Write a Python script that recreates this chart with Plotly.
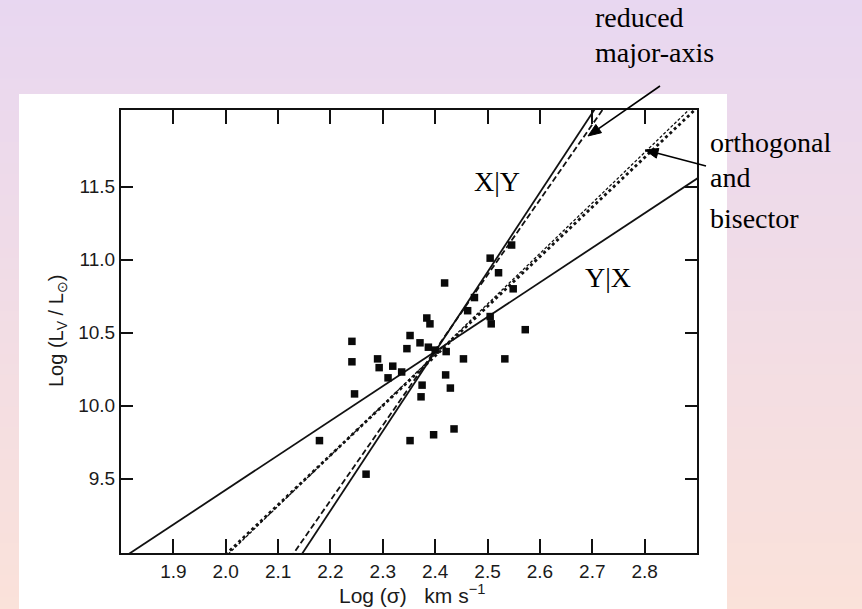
import numpy as np
import plotly.graph_objects as go

# Sample galaxies: log velocity dispersion vs log luminosity
log_sigma = [2.241, 2.241, 2.290, 2.293, 2.319, 2.310, 2.336, 2.246, 2.179, 2.352,
             2.346, 2.384, 2.390, 2.371, 2.387, 2.400, 2.418, 2.421, 2.454, 2.420,
             2.429, 2.375, 2.373, 2.352, 2.397, 2.436, 2.505, 2.546, 2.521, 2.549,
             2.505, 2.507, 2.572, 2.533, 2.475, 2.462, 2.268]
log_lum = [10.44, 10.30, 10.32, 10.26, 10.27, 10.19, 10.23, 10.08, 9.76, 10.48,
           10.39, 10.60, 10.56, 10.43, 10.40, 10.38, 10.84, 10.37, 10.32, 10.21,
           10.12, 10.14, 10.06, 9.76, 9.80, 9.84, 11.01, 11.10, 10.91, 10.80,
           10.61, 10.56, 10.52, 10.32, 10.74, 10.65, 9.53]

# Regression fits: y = pivot_y + slope * (x - PIVOT_X)
PIVOT_X = 2.4
fit_names = ["OLS(Y|X)", "OLS(X|Y)", "reduced major-axis", "OLS bisector", "orthogonal"]
fit_slopes = [2.37, 5.45, 5.15, 3.40, 3.46]
fit_pivot_y = [10.37, 10.37, 10.38, 10.34, 10.35]
fit_dash = ["solid", "solid", "6px,3px", "dot", "3px,2px"]
fit_width = [1.8, 1.8, 1.8, 2.8, 1.3]

x_ticks = [1.9, 2.0, 2.1, 2.2, 2.3, 2.4, 2.5, 2.6, 2.7, 2.8]
y_ticks = [9.5, 10.0, 10.5, 11.0, 11.5]
X_RANGE = [1.8, 2.9]
Y_RANGE = [8.99, 12.025]

W, H = 862, 609
ML, MR, MT, MB = 121, 165, 110, 56
PW, PH = W - ML - MR, H - MT - MB


def paper(px, py):
    return (px - ML) / PW, 1 - (py - MT) / PH


fig = go.Figure()

# fitted lines
xs = np.array([1.75, 2.95])
for name, b, a, dash, w in zip(fit_names, fit_slopes, fit_pivot_y, fit_dash, fit_width):
    fig.add_trace(go.Scatter(
        x=xs, y=a + b * (xs - PIVOT_X), mode="lines", name=name,
        line=dict(color="#111", width=w, dash=dash), showlegend=False,
        hoverinfo="skip"))

# data points
fig.add_trace(go.Scatter(
    x=log_sigma, y=log_lum, mode="markers", showlegend=False,
    marker=dict(symbol="square", size=7.5, color="#0a0a0a"), cliponaxis=False))

# background: lavender-to-peach wash behind a white panel
shapes = []
N = 60
top_rgb = np.array([232, 215, 241])
bot_rgb = np.array([251, 226, 217])
y_top, y_bot = paper(0, -5)[1], paper(0, H + 20)[1]
x_l, x_r = paper(-5, 0)[0], paper(W + 5, 0)[0]
for i in range(N):
    t = (i + 0.5) / N
    c = (top_rgb + (bot_rgb - top_rgb) * t).round().astype(int)
    y0 = y_top + (y_bot - y_top) * i / N
    y1 = y_top + (y_bot - y_top) * (i + 1) / N
    shapes.append(dict(type="rect", xref="paper", yref="paper", x0=x_l, x1=x_r,
                       y0=y1 - 0.002, y1=y0 + 0.002, line=dict(width=0),
                       fillcolor=f"rgb({c[0]},{c[1]},{c[2]})", layer="below"))
px0, py0 = paper(19, 94)
px1, py1 = paper(727, H + 20)
shapes.append(dict(type="rect", xref="paper", yref="paper", x0=px0, x1=px1,
                   y0=py1, y1=py0, line=dict(width=0), fillcolor="white", layer="below"))


def arrow(head, tail, head_len=13, head_half=5):
    """Straight pointer drawn as a shaft plus a filled arrowhead."""
    hx, hy = head
    tx, ty = tail
    d = np.hypot(hx - tx, hy - ty)
    ux, uy = (hx - tx) / d, (hy - ty) / d
    bx, by = hx - ux * head_len, hy - uy * head_len
    sx, sy = paper(tx, ty)
    ex, ey = paper(bx, by)
    shapes.append(dict(type="line", xref="paper", yref="paper", x0=sx, y0=sy,
                       x1=ex, y1=ey, line=dict(color="black", width=1.6)))
    pts = [(hx, hy), (bx - uy * head_half, by + ux * head_half),
           (bx + uy * head_half, by - ux * head_half)]
    path = "M " + " L ".join(f"{paper(x, y)[0]:.5f},{paper(x, y)[1]:.5f}" for x, y in pts) + " Z"
    shapes.append(dict(type="path", xref="paper", yref="paper", path=path,
                       fillcolor="black", line=dict(color="black", width=1)))


arrow((588, 136), (660, 86))
arrow((645, 150), (706, 166))

serif = dict(family="Liberation Serif", size=28, color="black")
sans = dict(family="Liberation Sans", size=19, color="#1a1a1a")
annotations = []


def label(text, px, py, anchor="left", font=serif, angle=0):
    x, y = paper(px, py)
    annotations.append(dict(text=text, x=x, y=y, xref="paper", yref="paper",
                            xanchor=anchor, yanchor="middle", showarrow=False,
                            textangle=angle, font=font))


label("reduced", 593, 18)
label("major-axis", 593, 53)
label("orthogonal", 708, 142)
label("and", 708, 178)
label("bisector", 708, 218)
label("X|Y", 497, 181, "center")
label("Y|X", 608, 277, "center")

# axis titles
label("Log (σ)   km s<sup>−1</sup>", 412, 594, "center",
      dict(family="Liberation Sans", size=21, color="#1a1a1a"))
label("Log (L<sub>V</sub> / L<sub>⊙</sub>)", 57, 331, "center",
      dict(family="Liberation Sans", size=20, color="#1a1a1a"), -90)

axis_common = dict(showgrid=False, zeroline=False, showline=True, linecolor="#111",
                   linewidth=2, mirror="ticks", ticks="inside", tickwidth=2,
                   tickcolor="#111", automargin=False, tickfont=sans)

fig.update_layout(
    width=W, height=H, margin=dict(l=ML, r=MR, t=MT, b=MB, autoexpand=False),
    paper_bgcolor="rgb(240,220,232)", plot_bgcolor="white",
    shapes=shapes, annotations=annotations,
    xaxis=dict(range=X_RANGE, tickvals=x_ticks, ticklen=14,
               ticktext=[f"{v:.1f}" for v in x_ticks], **axis_common),
    yaxis=dict(range=Y_RANGE, tickvals=y_ticks, ticklen=12,
               ticktext=[f"{v:.1f}" for v in y_ticks], **axis_common),
)

fig.write_html("out.html")
